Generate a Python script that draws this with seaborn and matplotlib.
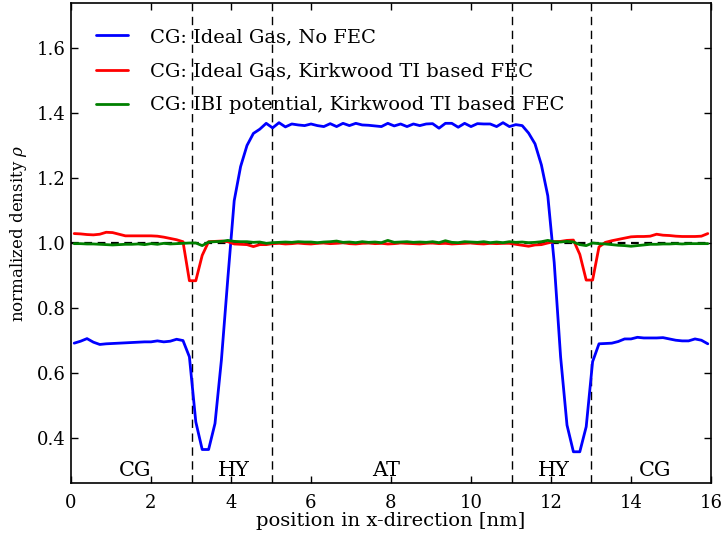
import numpy as np
import pandas as pd
import matplotlib
matplotlib.use("Agg")
import matplotlib.pyplot as plt
import seaborn as sns

# ---- data -------------------------------------------------------------
positions = np.round(0.08 + 0.16 * np.arange(100), 2)

ideal_no_fec = [
    0.692, 0.698, 0.706, 0.695, 0.688, 0.690, 0.691, 0.692, 0.693, 0.694,
    0.695, 0.696, 0.696, 0.699, 0.696, 0.698, 0.704, 0.700, 0.650, 0.450,
    0.365, 0.365, 0.445, 0.640, 0.890, 1.130, 1.235, 1.300, 1.337, 1.350,
    1.368, 1.354, 1.370, 1.357, 1.366, 1.363, 1.361, 1.366, 1.361, 1.358,
    1.367, 1.358, 1.368, 1.361, 1.368, 1.363, 1.362, 1.360, 1.358, 1.368,
    1.360, 1.366, 1.358, 1.366, 1.361, 1.366, 1.367, 1.353, 1.368, 1.368,
    1.356, 1.368, 1.358, 1.367, 1.366, 1.366, 1.358, 1.370, 1.358, 1.364,
    1.361, 1.338, 1.305, 1.240, 1.145, 0.940, 0.650, 0.440, 0.358, 0.358,
    0.435, 0.635, 0.690, 0.691, 0.692, 0.697, 0.705, 0.705, 0.710, 0.708,
    0.708, 0.708, 0.709, 0.705, 0.701, 0.699, 0.699, 0.705, 0.701, 0.690,
]

ideal_kirkwood = [
    1.029, 1.028, 1.026, 1.025, 1.027, 1.033, 1.032, 1.027, 1.022, 1.022,
    1.022, 1.022, 1.022, 1.021, 1.018, 1.014, 1.010, 1.004, 0.884, 0.884,
    0.962, 1.004, 1.005, 1.006, 1.004, 0.997, 0.996, 0.995, 0.989, 0.995,
    0.995, 0.998, 0.999, 0.997, 0.998, 1.000, 0.998, 0.997, 0.999, 1.000,
    0.998, 0.999, 1.001, 0.998, 0.997, 0.999, 1.000, 0.998, 0.999, 0.997,
    0.998, 1.000, 0.999, 0.998, 0.997, 0.999, 1.000, 0.998, 0.999, 0.997,
    0.998, 0.999, 1.000, 0.998, 0.997, 0.999, 0.998, 0.999, 0.999, 0.996,
    0.993, 0.990, 0.994, 0.995, 1.000, 1.004, 1.005, 1.008, 1.009, 0.965,
    0.886, 0.886, 0.988, 1.002, 1.007, 1.011, 1.015, 1.019, 1.020, 1.020,
    1.021, 1.027, 1.024, 1.023, 1.021, 1.020, 1.020, 1.020, 1.021, 1.029,
]

ibi_kirkwood = [
    0.998, 0.998, 0.997, 0.997, 0.996, 0.995, 0.994, 0.995, 0.996, 0.996,
    0.997, 0.995, 0.998, 0.996, 0.999, 0.997, 0.998, 0.999, 1.000, 1.000,
    0.992, 1.003, 1.004, 1.005, 1.008, 1.005, 1.004, 1.004, 1.002, 1.003,
    0.999, 1.001, 1.002, 1.003, 1.002, 1.004, 1.003, 1.003, 1.001, 1.003,
    1.004, 1.006, 1.002, 1.003, 1.001, 1.004, 1.002, 1.003, 1.001, 1.008,
    1.002, 1.003, 1.004, 1.002, 1.003, 1.002, 1.004, 1.001, 1.007, 1.002,
    1.001, 1.004, 1.003, 1.002, 1.004, 1.001, 1.003, 1.001, 1.004, 1.002,
    1.003, 1.001, 1.002, 1.004, 1.008, 1.004, 1.003, 1.005, 1.003, 0.995,
    0.992, 1.000, 0.998, 0.997, 0.995, 0.993, 0.992, 0.990, 0.992, 0.994,
    0.996, 0.996, 0.997, 0.997, 0.998, 0.997, 0.998, 0.998, 0.998, 0.998,
]

series_labels = [
    "CG: Ideal Gas, No FEC",
    "CG: Ideal Gas, Kirkwood TI based FEC",
    "CG: IBI potential, Kirkwood TI based FEC",
]
series_colors = ["#0000ff", "#ff0000", "#008000"]

region_bounds = [3.03, 5.03, 11.03, 13.01]
region_names = ["CG", "HY", "AT", "HY", "CG"]
region_label_x = [1.6, 4.07, 7.88, 12.07, 14.6]

xticks = [0, 2, 4, 6, 8, 10, 12, 14, 16]
yticks = [0.4, 0.6, 0.8, 1.0, 1.2, 1.4, 1.6]

# ---- style ------------------------------------------------------------
sns.set_style("ticks", {"xtick.direction": "in", "ytick.direction": "in"})
plt.rcParams["font.family"] = ["DejaVu Serif"]
plt.rcParams["mathtext.fontset"] = "dejavuserif"
for key in ["text.color", "axes.labelcolor", "xtick.color", "ytick.color",
            "axes.edgecolor"]:
    plt.rcParams[key] = "black"

fig = plt.figure(figsize=(7.21, 5.42), dpi=100)
ax = fig.add_axes([71 / 721, 1 - 483 / 542, 640 / 721, 480 / 542])

df = pd.DataFrame({
    "x": np.concatenate([positions] * 3),
    "rho": np.concatenate([ideal_no_fec, ideal_kirkwood, ibi_kirkwood]),
    "series": np.repeat(series_labels, len(positions)),
})
sns.lineplot(data=df, x="x", y="rho", hue="series", hue_order=series_labels,
             palette=series_colors, linewidth=2, ax=ax, estimator=None,
             sort=False)

ax.axhline(1.0, color="black", linestyle=(0, (3.5, 2.5)), linewidth=1.6, zorder=1)
for b in region_bounds:
    ax.axvline(b, color="black", linestyle=(0, (6, 4)), linewidth=1.0, zorder=1)

for name, xp in zip(region_names, region_label_x):
    ax.text(xp, 0.30, name, ha="center", va="center", fontsize=15)

ax.set_xlim(0, 16)
ax.set_ylim(0.262, 1.738)
ax.set_xticks(xticks)
ax.set_yticks(yticks)
ax.set_xticklabels([str(t) for t in xticks])
ax.set_yticklabels([f"{t:.1f}" for t in yticks])
ax.tick_params(axis="both", which="major", direction="in", length=5,
               width=1, labelsize=13, top=True, right=True,
               colors="black")
ax.tick_params(axis="x", pad=8)
ax.tick_params(axis="y", pad=4)
for s in ax.spines.values():
    s.set_linewidth(1.2)
    s.set_visible(True)
    s.set_color("black")

ax.set_xlabel("position in x-direction [nm]", fontsize=14, labelpad=0)
ax.set_ylabel(r"normalized density $\rho$", fontsize=12)
ax.yaxis.set_label_coords(-0.066, 0.52)

ax.legend(loc="upper left", bbox_to_anchor=(0.012, 0.984), frameon=False,
          fontsize=14, handlelength=1.65, handletextpad=1.1, labelspacing=0.83)

fig.savefig("out.png", dpi=100)
